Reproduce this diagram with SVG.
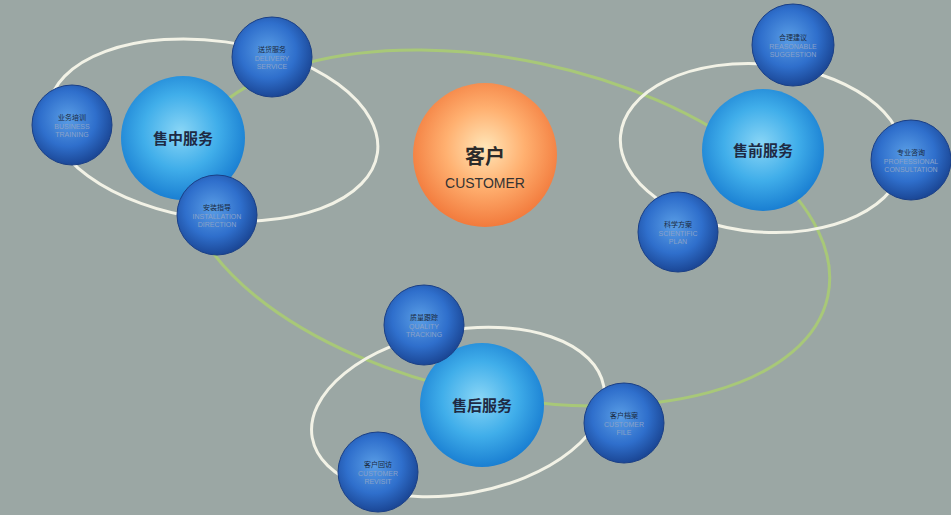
<svg xmlns="http://www.w3.org/2000/svg" width="951" height="515" viewBox="0 0 951 515">
<defs>
<radialGradient id="gSmall" cx="45%" cy="42%" r="58%">
<stop offset="0" stop-color="#5a9ee6"/>
<stop offset="0.6" stop-color="#2f6fcc"/>
<stop offset="1" stop-color="#1b4796"/>
</radialGradient>
<radialGradient id="gBig" cx="48%" cy="45%" r="55%">
<stop offset="0" stop-color="#8ad6f6"/>
<stop offset="0.55" stop-color="#40aeea"/>
<stop offset="1" stop-color="#1a7fd2"/>
</radialGradient>
<radialGradient id="gOrange" cx="50%" cy="45%" r="55%">
<stop offset="0" stop-color="#ffe6b8"/>
<stop offset="0.5" stop-color="#ffb070"/>
<stop offset="1" stop-color="#f27a3c"/>
</radialGradient>
<style>
.ring{fill:none;stroke:#f2f2e6;stroke-width:3}
.green{fill:none;stroke:#a8c878;stroke-width:3}
.small{fill:url(#gSmall);stroke:#1a3f86;stroke-width:1}
.big{fill:url(#gBig)}
.cn{font-family:"Noto Sans CJK SC","Noto Sans",sans-serif;font-size:7px;fill:#1a2a40;text-anchor:middle}
.en{font-family:"Liberation Sans",Arial,sans-serif;font-size:7px;fill:#8aa2c8;text-anchor:middle}
.bigt{font-family:"Noto Sans CJK SC",sans-serif;font-size:15px;font-weight:bold;fill:#1e2a44;text-anchor:middle}
</style>
</defs>
<rect width="951" height="515" fill="#9ba7a4"/>
<g id="connectors">
<ellipse class="green" cx="507" cy="228" rx="328" ry="168" transform="rotate(12 507 228)"/>
<ellipse class="ring" cx="213" cy="130" rx="166" ry="89" transform="rotate(8 213 130)"/>
<ellipse class="ring" cx="762" cy="148" rx="142" ry="84" transform="rotate(5 762 148)"/>
<ellipse class="ring" cx="458" cy="412" rx="148" ry="82" transform="rotate(-10 458 412)"/>
</g>
<g id="customer">
<circle cx="485" cy="155" r="72" fill="url(#gOrange)"/>
<text x="485" y="164" font-family="Noto Sans CJK SC,sans-serif" font-size="20" font-weight="bold" fill="#2a2a2a" text-anchor="middle">客户</text>
<text x="485" y="188" font-family="Liberation Sans,Arial,sans-serif" font-size="14" fill="#333" text-anchor="middle">CUSTOMER</text>
</g>
<g id="in-sale">
<circle class="big" cx="183" cy="138" r="62"/>
<text class="bigt" x="183" y="144">售中服务</text>
</g>
<g id="pre-sale">
<circle class="big" cx="763" cy="150" r="61"/>
<text class="bigt" x="763" y="156">售前服务</text>
</g>
<g id="after-sale">
<circle class="big" cx="482" cy="405" r="62"/>
<text class="bigt" x="482" y="411">售后服务</text>
</g>
<g id="delivery">
<circle class="small" cx="272" cy="57" r="40"/>
<text class="cn" x="272" y="52">送货服务</text>
<text class="en" x="272" y="61">DELIVERY</text>
<text class="en" x="272" y="69">SERVICE</text>
</g>
<g id="training">
<circle class="small" cx="72" cy="125" r="40"/>
<text class="cn" x="72" y="120">业务培训</text>
<text class="en" x="72" y="129">BUSINESS</text>
<text class="en" x="72" y="137">TRAINING</text>
</g>
<g id="installation">
<circle class="small" cx="217" cy="215" r="40"/>
<text class="cn" x="217" y="210">安装指导</text>
<text class="en" x="217" y="219">INSTALLATION</text>
<text class="en" x="217" y="227">DIRECTION</text>
</g>
<g id="suggestion">
<circle class="small" cx="793" cy="45" r="41"/>
<text class="cn" x="793" y="40">合理建议</text>
<text class="en" x="793" y="49">REASONABLE</text>
<text class="en" x="793" y="57">SUGGESTION</text>
</g>
<g id="consultation">
<circle class="small" cx="911" cy="160" r="40"/>
<text class="cn" x="911" y="155">专业咨询</text>
<text class="en" x="911" y="164">PROFESSIONAL</text>
<text class="en" x="911" y="172">CONSULTATION</text>
</g>
<g id="plan">
<circle class="small" cx="678" cy="232" r="40"/>
<text class="cn" x="678" y="227">科学方案</text>
<text class="en" x="678" y="236">SCIENTIFIC</text>
<text class="en" x="678" y="244">PLAN</text>
</g>
<g id="quality">
<circle class="small" cx="424" cy="325" r="40"/>
<text class="cn" x="424" y="320">质量跟踪</text>
<text class="en" x="424" y="329">QUALITY</text>
<text class="en" x="424" y="337">TRACKING</text>
</g>
<g id="file">
<circle class="small" cx="624" cy="423" r="40"/>
<text class="cn" x="624" y="418">客户档案</text>
<text class="en" x="624" y="427">CUSTOMER</text>
<text class="en" x="624" y="435">FILE</text>
</g>
<g id="revisit">
<circle class="small" cx="378" cy="472" r="40"/>
<text class="cn" x="378" y="467">客户回访</text>
<text class="en" x="378" y="476">CUSTOMER</text>
<text class="en" x="378" y="484">REVISIT</text>
</g>
</svg>
